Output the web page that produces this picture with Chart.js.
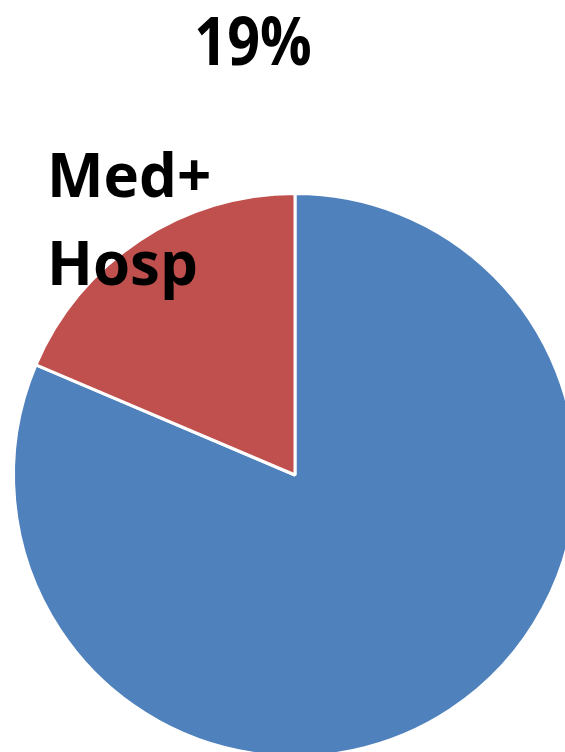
<!DOCTYPE html>
<html>
<head>
<meta charset="utf-8">
<script src="https://cdn.jsdelivr.net/npm/chart.js@4.4.0/dist/chart.umd.min.js"></script>
<style>
  html, body { margin: 0; padding: 0; background: #fff; overflow: hidden; }
  #wrap { position: absolute; left: 0; top: 0; width: 600px; height: 800px; }
</style>
</head>
<body>
<div id="wrap"><canvas id="myChart"></canvas></div>
<script>
// pie data
const labels = ['Other', 'Med+ Hosp']
const values = [81.4, 18.6]
const colors = ['#4F81BD', '#C0504D']
const labelLines = ['Med+', 'Hosp']

const total = values.reduce((a, b) => a + b, 0)
const pctText = Math.round(values[1] / total * 100) + '%'

// draws the percent header and the slice label on top of the pie
const textPlugin = {
    id: 'textPlugin',
    afterDraw(chart) {
        const ctx = chart.ctx
        ctx.save()
        ctx.fillStyle = '#000'
        ctx.textBaseline = 'alphabetic'

        // header is a bit narrower in the original font, squeeze it
        ctx.save()
        ctx.font = 'bold 66px "Open Sans"'
        ctx.textAlign = 'center'
        ctx.translate(253, 65)
        ctx.scale(0.87, 1)
        ctx.fillText(pctText, 0, 0)
        ctx.restore()

        ctx.font = 'bold 60px "Open Sans"'
        ctx.textAlign = 'left'
        labelLines.forEach((line, i) => {
            ctx.fillText(line, 47, 197 + i * 88)
        })
        ctx.restore()
    }
}

const config = {
    type: 'pie',
    data: {
        labels: labels,
        datasets: [{
            data: values,
            backgroundColor: colors,
            borderColor: '#ffffff',
            borderWidth: 3
        }]
    },
    options: {
        responsive: true,
        maintainAspectRatio: false,
        animation: false,
        layout: {
            padding: { left: 12, right: 22, top: 192, bottom: 42 }
        },
        plugins: {
            legend: { display: false },
            tooltip: { enabled: false },
            title: { display: false }
        }
    },
    plugins: [textPlugin]
}

const chart = new Chart(document.getElementById('myChart'), config)
</script>
</body>
</html>
